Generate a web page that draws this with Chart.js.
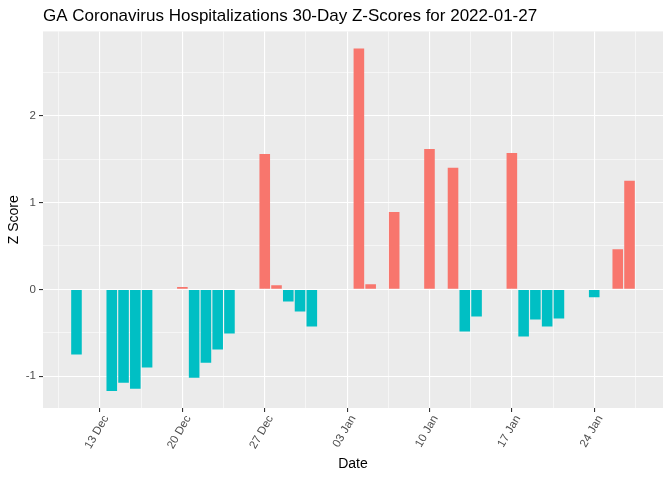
<!DOCTYPE html>
<html lang="en"><head>
<meta charset="utf-8"/>
<title>GA Coronavirus Hospitalizations Z-Scores</title>
<script src="https://cdn.jsdelivr.net/npm/chart.js"></script>
<style>
    html, body { margin: 0; padding: 0; background: #fff; }
    #wrap { width: 672px; height: 480px; }
</style>
</head>
<body>
<div id="wrap"><canvas id="zChart"></canvas></div>
<script>
    const dates = [
        '2021-12-11', '2021-12-14', '2021-12-15', '2021-12-16', '2021-12-17',
        '2021-12-20', '2021-12-21', '2021-12-22', '2021-12-23', '2021-12-24',
        '2021-12-27', '2021-12-28', '2021-12-29', '2021-12-30', '2021-12-31',
        '2022-01-04', '2022-01-05', '2022-01-07', '2022-01-10', '2022-01-12',
        '2022-01-13', '2022-01-14', '2022-01-17', '2022-01-18', '2022-01-19',
        '2022-01-20', '2022-01-21', '2022-01-24', '2022-01-26', '2022-01-27'
    ];
    const zScores = [
        -0.75, -1.17, -1.075, -1.145, -0.90,
        0.027, -1.02, -0.845, -0.694, -0.51,
        1.56, 0.046, -0.139, -0.254, -0.428,
        2.775, 0.058, 0.89, 1.618, 1.40,
        -0.486, -0.312, 1.572, -0.543, -0.347,
        -0.428, -0.335, -0.092, 0.462, 1.25
    ];
    const tickDates = ['2021-12-13', '2021-12-20', '2021-12-27', '2022-01-03', '2022-01-10', '2022-01-17', '2022-01-24'];
    const tickLabels = ['13 Dec', '20 Dec', '27 Dec', '03 Jan', '10 Jan', '17 Jan', '24 Jan'];
    const yTicks = [-1, 0, 1, 2];

    const DAY = 86400000;
    const base = Date.parse(tickDates[0] + 'T00:00:00Z');
    const toDay = d => (Date.parse(d + 'T00:00:00Z') - base) / DAY;

    const points = dates.map((d, i) => ({ x: toDay(d), y: zScores[i] }));
    const majorX = tickDates.map(toDay);

    // ggplot-like limits: bar width 0.9 plus 5% expansion
    const xs = points.map(p => p.x);
    const xLo = Math.min(...xs) - 0.45, xHi = Math.max(...xs) + 0.45;
    const xExp = (xHi - xLo) * 0.05;
    const yLo = Math.min(0, ...zScores), yHi = Math.max(0, ...zScores);
    const yExp = (yHi - yLo) * 0.05;

    const xAllTicks = [];
    const xStep = majorX[1] - majorX[0];
    for (let v = majorX[0] - xStep / 2; v <= majorX[majorX.length - 1] + xStep / 2 + 0.01; v += xStep / 2) {
        if (v >= xLo - xExp && v <= xHi + xExp) xAllTicks.push(v);
    }
    const yAllTicks = [];
    for (let v = yTicks[0] - 0.5; v <= yTicks[yTicks.length - 1] + 0.5; v += 0.5) {
        if (v >= yLo - yExp && v <= yHi + yExp) yAllTicks.push(v);
    }
    const isMajorX = v => majorX.some(m => Math.abs(m - v) < 1e-6);
    const isMajorY = v => yTicks.some(m => Math.abs(m - v) < 1e-6);
    const tickVal = c => (c && c.tick) ? c.tick.value : NaN;

    const panelBg = {
        id: 'panelBg',
        beforeDraw(chart) {
            const { ctx, chartArea: a } = chart;
            ctx.save();
            ctx.fillStyle = '#EBEBEB';
            ctx.fillRect(a.left, a.top, a.right - a.left, a.bottom - a.top);
            ctx.restore();
        }
    };

    const font = "'Liberation Sans', Arial, sans-serif";

    new Chart(document.getElementById('zChart'), {
        type: 'bar',
        data: {
            datasets: [{
                data: points,
                backgroundColor: ctx => (ctx.raw && ctx.raw.y > 0) ? '#F8766D' : '#00BFC4',
                borderWidth: 0,
                barPercentage: 0.9,
                categoryPercentage: 1.0
            }]
        },
        plugins: [panelBg],
        options: {
            responsive: true,
            maintainAspectRatio: false,
            animation: false,
            layout: { padding: { left: 0, right: 9, top: 0, bottom: 0 } },
            plugins: {
                legend: { display: false },
                tooltip: { enabled: false },
                title: {
                    display: true,
                    fullSize: false,
                    text: 'GA Coronavirus Hospitalizations 30-Day Z-Scores for 2022-01-27',
                    align: 'start',
                    color: '#000',
                    font: { family: font, size: 17, weight: 'normal' },
                    padding: { top: 6, bottom: 5 }
                }
            },
            scales: {
                x: {
                    type: 'linear',
                    offset: false,
                    min: xLo - xExp,
                    max: xHi + xExp,
                    afterBuildTicks: axis => { axis.ticks = xAllTicks.map(v => ({ value: v })); },
                    afterFit: axis => { axis.height = 72; },
                    border: { display: false },
                    grid: {
                        offset: false,
                        color: '#FFFFFF',
                        lineWidth: c => isMajorX(tickVal(c)) ? 1.1 : 0.55,
                        tickColor: c => isMajorX(tickVal(c)) ? '#333333' : 'rgba(0,0,0,0)',
                        tickLength: 4,
                        tickWidth: 1.1
                    },
                    ticks: {
                        autoSkip: false,
                        minRotation: 60,
                        maxRotation: 60,
                        padding: 1,
                        labelOffset: 6,
                        color: '#4D4D4D',
                        font: { family: font, size: 11.5 },
                        callback: v => {
                            const i = majorX.findIndex(m => Math.abs(m - v) < 1e-6);
                            return i >= 0 ? tickLabels[i] : '';
                        }
                    },
                    title: {
                        display: true,
                        text: 'Date',
                        color: '#000',
                        font: { family: font, size: 14 },
                        padding: { top: 0, bottom: 7 }
                    }
                },
                y: {
                    min: yLo - yExp,
                    max: yHi + yExp,
                    afterBuildTicks: axis => { axis.ticks = yAllTicks.map(v => ({ value: v })); },
                    afterFit: axis => { axis.width = 43; },
                    border: { display: false },
                    grid: {
                        color: '#FFFFFF',
                        lineWidth: c => isMajorY(tickVal(c)) ? 1.1 : 0.55,
                        tickColor: c => isMajorY(tickVal(c)) ? '#333333' : 'rgba(0,0,0,0)',
                        tickLength: 4,
                        tickWidth: 1.1
                    },
                    ticks: {
                        autoSkip: false,
                        padding: 3,
                        color: '#4D4D4D',
                        font: { family: font, size: 11.5 },
                        callback: v => isMajorY(v) ? String(v) : ''
                    },
                    title: {
                        display: true,
                        text: 'Z Score',
                        color: '#000',
                        font: { family: font, size: 14 },
                        padding: { top: 6, bottom: 0 }
                    }
                }
            }
        }
    });
</script>
</body></html>
